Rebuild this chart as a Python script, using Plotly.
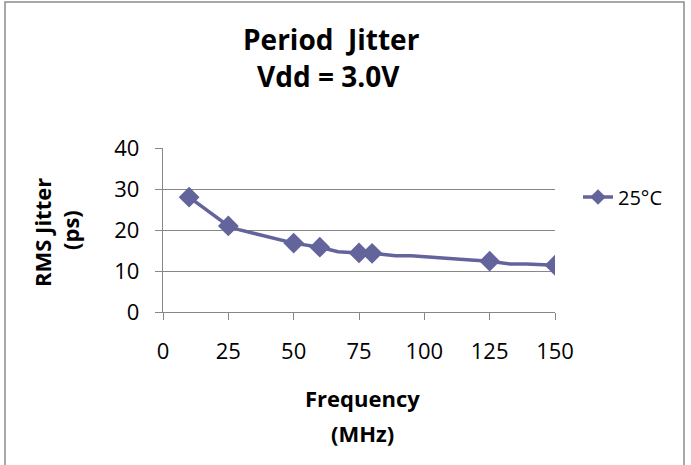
import plotly.graph_objects as go

# Measured points (with diamond markers)
freq_marked = [10, 25, 50, 60, 75, 80, 125, 150]
jitter_marked = [28.0, 21.0, 16.8, 15.8, 14.4, 14.3, 12.4, 11.4]

# Full line path (includes unmarked vertices)
freq_line = [10, 25, 29, 50, 60, 67, 75, 80, 89, 95, 115, 125, 133, 139, 150]
jitter_line = [28.0, 21.0, 20.1, 16.8, 15.8, 14.7, 14.4, 14.3, 13.7, 13.7, 12.8, 12.4, 11.7, 11.7, 11.4]

x_ticks = [0, 25, 50, 75, 100, 125, 150]
y_ticks = [0, 10, 20, 30, 40]
series_name = "25°C"
title_lines = ["Period  Jitter", "Vdd = 3.0V"]
x_title_lines = ["Frequency", "(MHz)"]
y_title_lines = ["RMS Jitter", "(ps)"]

COLOR = "#64649c"
GRID = "#878787"
FONT = "Open Sans"

L, R, T, B = 163, 136, 148, 153
W, H = 691, 465
pw, ph = W - L - R, H - T - B


def px(x):
    return (x - L) / pw


def py(y):
    return (H - B - y) / ph


fig = go.Figure()
fig.add_trace(go.Scatter(x=freq_line, y=jitter_line, mode="lines",
                         line=dict(color=COLOR, width=3.5), showlegend=False,
                         hoverinfo="skip"))
fig.add_trace(go.Scatter(x=freq_marked, y=jitter_marked, mode="markers",
                         marker=dict(symbol="diamond", size=16, color=COLOR),
                         showlegend=False))
fig.add_trace(go.Scatter(x=[None], y=[None], mode="lines+markers", name=series_name,
                         line=dict(color=COLOR, width=3.5),
                         marker=dict(symbol="diamond", size=12, color=COLOR)))

annotations = [
    dict(text="<b>%s</b>" % title_lines[0], x=px(331), y=py(39), font=dict(size=28)),
    dict(text="<b>%s</b>" % title_lines[1], x=px(328), y=py(76), font=dict(size=28)),
    dict(text="<b>%s</b>" % x_title_lines[0], x=px(362), y=py(398), font=dict(size=22)),
    dict(text="<b>%s</b>" % x_title_lines[1], x=px(362), y=py(433), font=dict(size=22)),
    dict(text="<b>%s</b>" % y_title_lines[0], x=px(42), y=py(233), font=dict(size=22), textangle=-90),
    dict(text="<b>%s</b>" % y_title_lines[1], x=px(70), y=py(230), font=dict(size=22), textangle=-90),
]
for a in annotations:
    a.update(xref="paper", yref="paper", xanchor="center", yanchor="middle", showarrow=False)
    a["font"].update(family=FONT, color="black")

fig.update_layout(
    width=W, height=H,
    margin=dict(l=L, r=R, t=T, b=B, pad=0, autoexpand=False),
    paper_bgcolor="white", plot_bgcolor="white",
    font=dict(family=FONT, color="black"),
    xaxis=dict(range=[0, 150], tickvals=x_ticks, ticktext=[str(v) for v in x_ticks],
               showgrid=False, zeroline=False, showline=True, linecolor=GRID, linewidth=1.3,
               ticks="outside", ticklen=7, tickcolor=GRID, tickwidth=1.3,
               tickfont=dict(size=22, family=FONT), ticklabelstandoff=12, automargin=False),
    yaxis=dict(range=[0, 40], tickvals=y_ticks, showgrid=True, gridcolor=GRID, gridwidth=1.3,
               zeroline=False, showline=True, linecolor=GRID, linewidth=1.3,
               ticks="outside", ticklen=7, tickcolor=GRID, tickwidth=1.3,
               tickfont=dict(size=22, family=FONT), ticklabelstandoff=11, automargin=False),
    legend=dict(x=px(578), y=py(197), xanchor="left", yanchor="middle",
                font=dict(size=20, family=FONT), bgcolor="rgba(0,0,0,0)"),
    annotations=annotations,
    shapes=[dict(type="rect", xref="paper", yref="paper",
                 x0=px(5), x1=px(684), y0=py(480), y1=py(2),
                 line=dict(color="#8c8c8c", width=1.5), layer="below")],
)

fig.write_html("out.html", config={"displayModeBar": False},
               post_script="document.body.style.margin='0';document.body.style.overflow='hidden';")
